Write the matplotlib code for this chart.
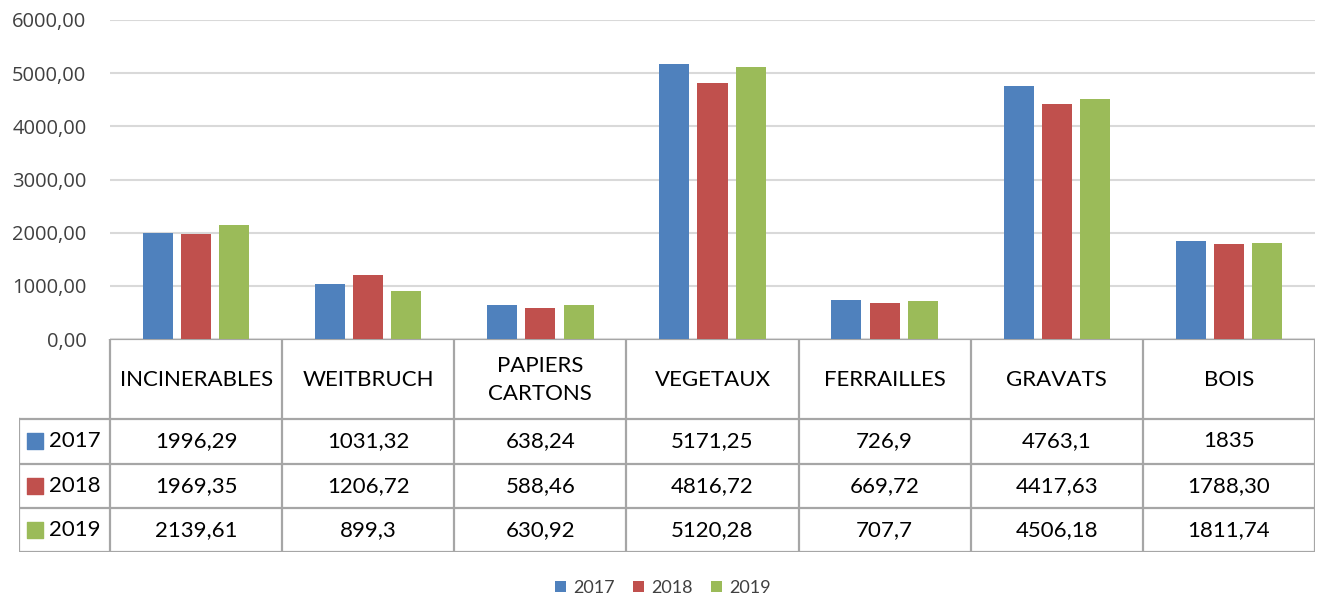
import matplotlib.pyplot as plt
import numpy as np

# data (table text kept as shown, values parsed from it)
categories = ["INCINERABLES", "WEITBRUCH", "PAPIERS\nCARTONS", "VEGETAUX",
              "FERRAILLES", "GRAVATS", "BOIS"]
years = ["2017", "2018", "2019"]
labels_2017 = ["1996,29", "1031,32", "638,24", "5171,25", "726,9", "4763,1", "1835"]
labels_2018 = ["1969,35", "1206,72", "588,46", "4816,72", "669,72", "4417,63", "1788,30"]
labels_2019 = ["2139,61", "899,3", "630,92", "5120,28", "707,7", "4506,18", "1811,74"]
y_ticks = [0, 1000, 2000, 3000, 4000, 5000, 6000]

colors = ["#4f81bd", "#c0504d", "#9bbb59"]
table_rows = [labels_2017, labels_2018, labels_2019]
values = [[float(s.replace(",", ".")) for s in row] for row in table_rows]

W, H = 1320, 599
fig = plt.figure(figsize=(W / 100, H / 100), dpi=100)


def px_axes(x0, y0, x1, y1):
    return fig.add_axes([x0 / W, 1 - y1 / H, (x1 - x0) / W, (y1 - y0) / H])


# bar area
ax = px_axes(110, 20, 1315, 339)
x = np.arange(len(categories))
offsets = [-0.222, 0, 0.222]
for vals, off, c, yr in zip(values, offsets, colors, years):
    ax.bar(x + off, vals, width=0.175, color=c, label=yr, zorder=3)

ax.set_xlim(-0.5, len(categories) - 0.5)
ax.set_ylim(0, 6000)
ax.set_yticks(y_ticks)
ax.set_yticklabels([f"{v:.2f}".replace(".", ",") for v in y_ticks],
                   fontsize=14.5, color="#404040", family="Open Sans")
ax.tick_params(axis="y", length=0, pad=17)
ax.set_xticks([])
ax.grid(axis="y", color="#d9d9d9", linewidth=1.5, zorder=0)
for s in ax.spines.values():
    s.set_visible(False)

# data table underneath
leg_w = 91 / 172.14
tx = px_axes(19, 339, 1315, 552)
tx.set_xlim(-0.5 - leg_w, len(categories) - 0.5)
tx.set_ylim(213, 0)
tx.axis("off")
row_y = [0, 80, 124.5, 169, 213]
lc = "#a6a6a6"
lw = 1.6
left = -0.5 - leg_w
right = len(categories) - 0.5
# horizontal lines
tx.plot([-0.5, right], [0, 0], color=lc, lw=lw)
for yy in row_y[1:]:
    tx.plot([left, right], [yy, yy], color=lc, lw=lw)
# vertical lines
tx.plot([left, left], [row_y[1], row_y[-1]], color=lc, lw=lw)
for i in range(len(categories) + 1):
    tx.plot([i - 0.5, i - 0.5], [0, 213], color=lc, lw=lw)

tfont = dict(family="Lato", fontsize=16, color="black", ha="center", va="center")
for i, cat in enumerate(categories):
    tx.text(i, 41, cat, linespacing=1.55, **tfont)
for r, (row, c, yr) in enumerate(zip(table_rows, colors, years)):
    yc = (row_y[r + 1] + row_y[r + 2]) / 2
    for i, s in enumerate(row):
        tx.text(i, yc, s, **tfont)
    tx.scatter([left + 0.095], [yc], marker="s", s=120, color=c)
    tx.text(left + 0.175, yc, yr, family="Lato", fontsize=16, color="black",
            ha="left", va="center")

# legend at the bottom
fig.legend(loc="center", bbox_to_anchor=(663 / W, 1 - 588 / H), ncol=3,
           frameon=False, handlelength=0.6, handleheight=0.6, handletextpad=0.4,
           columnspacing=1.0, prop={"family": "Lato", "size": 13}, labelcolor="#404040")

fig.savefig("out.png", dpi=100)
